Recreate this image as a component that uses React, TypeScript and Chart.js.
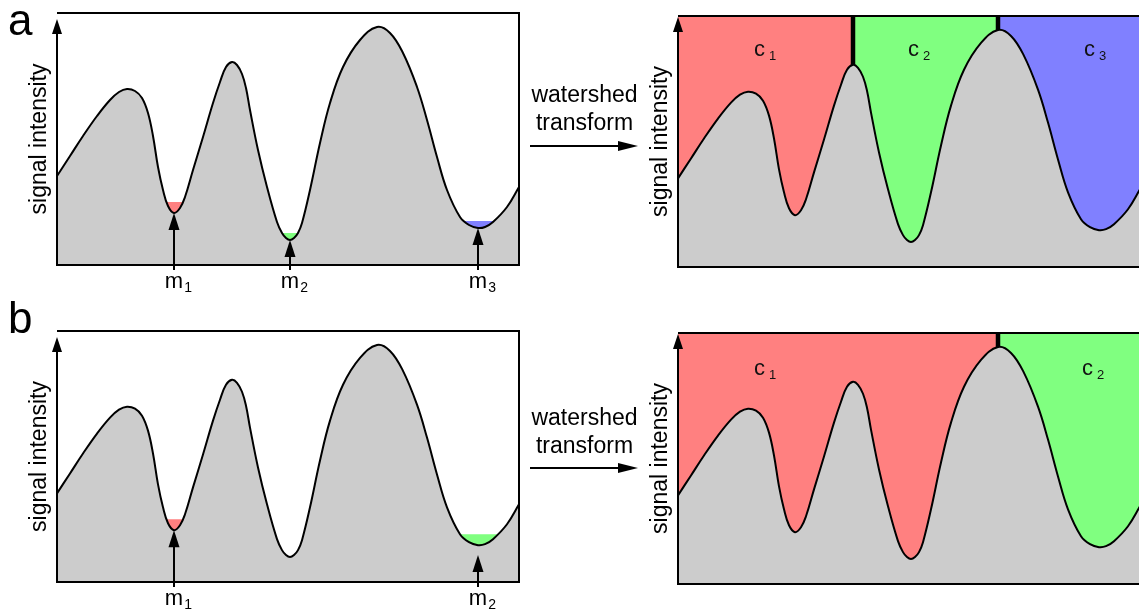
import React, { useEffect, useRef } from "react";
import { Chart, registerables } from "chart.js";
Chart.register(...registerables);

const FONT = 'Arial, "Liberation Sans", sans-serif';

// signal profile (x: position, y: intensity)
const positions = [0, 13, 26, 40, 53, 62, 70, 78, 85, 91, 96, 101, 106, 111, 117, 123, 128, 136, 146, 156, 163, 169, 175, 180, 185, 189, 193, 201, 210, 220, 225, 229, 233, 237, 241, 245, 253, 263, 273, 286, 303, 320, 333, 346, 360, 370, 380, 390, 403, 412, 421, 428, 436, 450, 462];
const intensity = [89, 109, 129, 149, 165, 173, 176, 174, 167, 152, 129, 98, 75, 59, 52, 57, 68, 95, 128, 162, 183, 198, 203, 200, 191, 177, 155, 115, 78, 43, 32, 27, 25, 27, 32, 42, 75, 122, 162, 198, 225, 238, 232, 212, 178, 145, 108, 75, 48, 40, 37, 38, 43, 58, 78];
const X_MAX = 462;
const Y_MAX = 252;

// panel a: markers (minima) and flooded pools
const markerPosA = [117, 233, 421];
const markerTipA = [52, 25, 37];
const markerSubA = ["1", "2", "3"];
const poolLevelA = [63, 32, 44];
const poolFromA = [70, 175, 320];
const poolToA = [175, 320, 462];
const poolColorA = ["#ff8080", "#80ff80", "#8080ff"];
// panel a: catchment basins after watershed
const basinFromA = [0, 175, 320];
const basinToA = [175, 320, 462];
const basinColorA = ["#ff8080", "#80ff80", "#8080ff"];
const basinSubA = ["1", "2", "3"];
const basinLabelXA = [76, 230, 406];
const basinLabelYA = 212;
const ridgeA = [175, 320];

// panel b
const markerPosB = [117, 421];
const markerTipB = [52, 27];
const markerSubB = ["1", "2"];
const poolLevelB = [63, 48];
const poolFromB = [70, 320];
const poolToB = [175, 462];
const poolColorB = ["#ff8080", "#80ff80"];
const basinFromB = [0, 320];
const basinToB = [320, 462];
const basinColorB = ["#ff8080", "#80ff80"];
const basinSubB = ["1", "2"];
const basinLabelXB = [76, 404];
const basinLabelYB = 210;
const ridgeB = [320];

const TRANSPARENT = "rgba(0,0,0,0)";

type Spec = {
  letter?: string;
  letterBaseline?: number;
  watershed?: { b1: number; b2: number; arrowY: number };
  axisTipOffset: number;
  markers?: { pos: number[]; tip: number[]; sub: string[] };
  basinLabels?: { x: number[]; y: number; sub: string[] };
};

function curveDataset() {
  return {
    data: positions.map((x, i) => ({ x, y: intensity[i] })),
    borderColor: "#000",
    borderWidth: 2,
    backgroundColor: "#cccccc",
    fill: "start",
    tension: 0.4,
    pointRadius: 0,
  };
}

function levelDataset(from: number, to: number, level: number, color: string, onlyAbove: boolean) {
  return {
    data: positions.map((x) => ({ x, y: x >= from && x <= to ? level : null })),
    borderColor: TRANSPARENT,
    borderWidth: 0,
    pointRadius: 0,
    tension: 0,
    backgroundColor: color,
    fill: onlyAbove ? { target: 0, above: color, below: TRANSPARENT } : { target: 0 },
  };
}

function ridgeDataset(x: number) {
  const peak = intensity[positions.indexOf(x)];
  return {
    data: [{ x, y: Y_MAX }, { x, y: peak }],
    borderColor: "#000",
    borderWidth: 4.5,
    borderCapStyle: "butt",
    pointRadius: 0,
    tension: 0,
    fill: false,
  };
}

function drawDecor(chart: any, spec: Spec) {
  const { ctx, chartArea: ca } = chart;
  const xS = chart.scales.x;
  const yS = chart.scales.y;
  ctx.save();
  ctx.strokeStyle = "#000";
  ctx.fillStyle = "#000";
  ctx.lineWidth = 2;
  const tipY = ca.top + spec.axisTipOffset;
  // frame
  ctx.beginPath();
  ctx.moveTo(ca.left, ca.top);
  ctx.lineTo(ca.right, ca.top);
  ctx.lineTo(ca.right, ca.bottom);
  ctx.lineTo(ca.left, ca.bottom);
  ctx.lineTo(ca.left, tipY + 10);
  ctx.stroke();
  ctx.beginPath();
  ctx.moveTo(ca.left, tipY);
  ctx.lineTo(ca.left - 5, tipY + 15);
  ctx.lineTo(ca.left + 5, tipY + 15);
  ctx.closePath();
  ctx.fill();

  // axis title
  ctx.save();
  ctx.translate(ca.left - 11, (ca.top + ca.bottom) / 2);
  ctx.rotate(-Math.PI / 2);
  ctx.font = `23px ${FONT}`;
  ctx.textAlign = "center";
  ctx.textBaseline = "alphabetic";
  ctx.fillText("signal intensity", 0, 0);
  ctx.restore();

  ctx.textAlign = "left";
  ctx.textBaseline = "alphabetic";

  if (spec.markers) {
    const m = spec.markers;
    m.pos.forEach((p, i) => {
      const px = xS.getPixelForValue(p);
      const ty = yS.getPixelForValue(m.tip[i]);
      ctx.lineWidth = 2;
      ctx.beginPath();
      ctx.moveTo(px, ca.bottom + 5);
      ctx.lineTo(px, ty + 12);
      ctx.stroke();
      ctx.beginPath();
      ctx.moveTo(px, ty);
      ctx.lineTo(px - 5.5, ty + 17);
      ctx.lineTo(px + 5.5, ty + 17);
      ctx.closePath();
      ctx.fill();
      ctx.font = `22px ${FONT}`;
      const w = ctx.measureText("m").width;
      ctx.fillText("m", px - w / 2, ca.bottom + 23);
      ctx.font = `14px ${FONT}`;
      ctx.fillText(m.sub[i], px + w / 2 + 1, ca.bottom + 27);
    });
  }

  if (spec.basinLabels) {
    const b = spec.basinLabels;
    b.x.forEach((p, i) => {
      const px = xS.getPixelForValue(p);
      const py = yS.getPixelForValue(b.y);
      ctx.fillStyle = "#111";
      ctx.font = `22px ${FONT}`;
      const w = ctx.measureText("c").width;
      ctx.fillText("c", px, py);
      ctx.font = `13px ${FONT}`;
      ctx.fillText(b.sub[i], px + w + 4, py + 4);
    });
  }

  if (spec.letter) {
    ctx.fillStyle = "#000";
    ctx.font = `44px ${FONT}`;
    ctx.fillText(spec.letter, 8, spec.letterBaseline || 35);
  }

  if (spec.watershed) {
    const wsh = spec.watershed;
    ctx.fillStyle = "#000";
    ctx.font = `23px ${FONT}`;
    ctx.textAlign = "center";
    ctx.fillText("watershed", 584.5, wsh.b1);
    ctx.fillText("transform", 584.5, wsh.b2);
    ctx.lineWidth = 2;
    ctx.beginPath();
    ctx.moveTo(530, wsh.arrowY);
    ctx.lineTo(622, wsh.arrowY);
    ctx.stroke();
    ctx.beginPath();
    ctx.moveTo(638, wsh.arrowY);
    ctx.lineTo(618, wsh.arrowY - 5);
    ctx.lineTo(618, wsh.arrowY + 5);
    ctx.closePath();
    ctx.fill();
  }
  ctx.restore();
}

function baseOptions(padding: any) {
  return {
    responsive: false,
    animation: false,
    devicePixelRatio: 1,
    events: [],
    layout: { padding },
    scales: {
      x: { type: "linear", min: 0, max: X_MAX, display: false },
      y: { type: "linear", min: 0, max: Y_MAX, display: false },
    },
    plugins: { legend: { display: false }, tooltip: { enabled: false } },
  };
}

function leftConfig(
  padding: any,
  levels: number[],
  from: number[],
  to: number[],
  colors: string[],
  spec: Spec
) {
  const datasets: any[] = [curveDataset()];
  levels.forEach((lv, i) => datasets.push(levelDataset(from[i], to[i], lv, colors[i], true)));
  return {
    type: "line",
    data: { datasets },
    options: baseOptions(padding),
    plugins: [{ id: "decor", afterDatasetsDraw: (c: any) => drawDecor(c, spec) }],
  };
}

function rightConfig(
  padding: any,
  ridges: number[],
  from: number[],
  to: number[],
  colors: string[],
  spec: Spec
) {
  const datasets: any[] = [curveDataset()];
  ridges.forEach((r) => datasets.push(ridgeDataset(r)));
  from.forEach((f, i) => datasets.push(levelDataset(f, to[i], Y_MAX, colors[i], false)));
  return {
    type: "line",
    data: { datasets },
    options: baseOptions(padding),
    plugins: [{ id: "decor", afterDatasetsDraw: (c: any) => drawDecor(c, spec) }],
  };
}

function Panel({ make, left, top, width, height }: any) {
  const ref = useRef<HTMLCanvasElement>(null);
  useEffect(() => {
    const chart = new Chart(ref.current as HTMLCanvasElement, make());
    return () => chart.destroy();
  }, []);
  return (
    <canvas
      ref={ref}
      width={width}
      height={height}
      style={{ position: "absolute", left, top, width, height }}
    />
  );
}

export default function App() {
  return (
    <div
      style={{
        position: "absolute",
        left: 0,
        top: 0,
        width: 1139,
        height: 612,
        overflow: "hidden",
        background: "#fff",
      }}
    >
      <Panel
        left={0}
        top={0}
        width={640}
        height={305}
        make={() =>
          leftConfig({ left: 57, top: 13, right: 121, bottom: 40 }, poolLevelA, poolFromA, poolToA, poolColorA, {
            letter: "a",
            letterBaseline: 35,
            watershed: { b1: 101.5, b2: 130, arrowY: 146 },
            axisTipOffset: 6,
            markers: { pos: markerPosA, tip: markerTipA, sub: markerSubA },
          })
        }
      />
      <Panel
        left={640}
        top={0}
        width={500}
        height={305}
        make={() =>
          rightConfig({ left: 38, top: 16, right: 0, bottom: 38 }, ridgeA, basinFromA, basinToA, basinColorA, {
            axisTipOffset: 1,
            basinLabels: { x: basinLabelXA, y: basinLabelYA, sub: basinSubA },
          })
        }
      />
      <Panel
        left={0}
        top={300}
        width={640}
        height={312}
        make={() =>
          leftConfig({ left: 57, top: 31, right: 121, bottom: 30 }, poolLevelB, poolFromB, poolToB, poolColorB, {
            letter: "b",
            letterBaseline: 33,
            watershed: { b1: 125, b2: 153, arrowY: 168 },
            axisTipOffset: 6,
            markers: { pos: markerPosB, tip: markerTipB, sub: markerSubB },
          })
        }
      />
      <Panel
        left={640}
        top={300}
        width={500}
        height={312}
        make={() =>
          rightConfig({ left: 38, top: 33, right: 0, bottom: 28 }, ridgeB, basinFromB, basinToB, basinColorB, {
            axisTipOffset: 1,
            basinLabels: { x: basinLabelXB, y: basinLabelYB, sub: basinSubB },
          })
        }
      />
    </div>
  );
}
